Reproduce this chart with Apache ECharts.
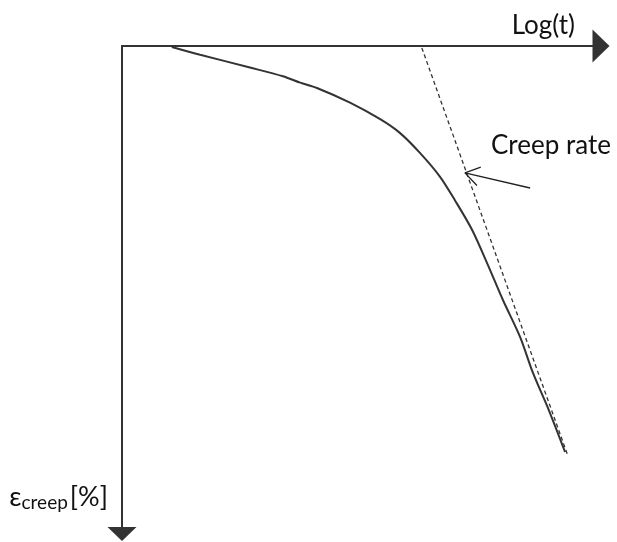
<!DOCTYPE html>
<html>
<head>
<meta charset="utf-8">
<script src="https://cdn.jsdelivr.net/npm/echarts@6/dist/echarts.min.js"></script>
<style>
  html, body { margin: 0; padding: 0; background: #fff; }
  #main { width: 617px; height: 542px; }
</style>
</head>
<body>
<div id="main"></div>
<script>
// creep curve, log(t) vs strain (arbitrary units)
var logT   = [10.4, 16.3, 26.7, 33.6, 37.2, 40.7, 47.6, 53.9, 58.0, 62.2, 66.4, 69.5, 73.1, 76.4, 79.5, 83.1, 85.8, 89.1, 92.5];
var strain = [0.2, 1.8, 4.4, 6.2, 7.5, 8.6, 11.6, 15.0, 17.8, 21.9, 26.8, 31.6, 37.7, 44.9, 52.0, 59.6, 67.0, 74.6, 83.2];
// tangent (creep rate) line
var tangentX = [62.6, 93.1];
var tangentY = [0.4, 84.0];
// pointer from the label to the tangent line
var pointerX = [85.2, 71.6];
var pointerY = [29.1, 26.0];
var headX = [74.9, 71.6, 74.1];
var headY = [24.8, 26.0, 28.6];

function pairs(xs, ys) {
  return xs.map(function (x, i) { return [x, ys[i]]; });
}

var FONT = 'Lato';
var myChart = echarts.init(document.getElementById('main'));
var option = {
  animation: false,
  backgroundColor: '#fff',
  grid: { left: 122, right: 16, top: 46, bottom: 8 },
  xAxis: {
    type: 'value',
    position: 'top',
    min: 0,
    max: 100,
    name: 'Log(t)',
    nameLocation: 'end',
    nameGap: -26,
    nameTextStyle: {
      fontFamily: FONT, fontSize: 26, color: '#111',
      align: 'right', verticalAlign: 'bottom', padding: [0, 0, 7, 0]
    },
    axisLine: {
      onZero: false,
      lineStyle: { color: '#333', width: 2 },
      symbol: ['none', 'triangle'],
      symbolSize: [33, 17]
    },
    axisTick: { show: false },
    axisLabel: { show: false },
    splitLine: { show: false }
  },
  yAxis: {
    type: 'value',
    inverse: true,
    min: 0,
    max: 100,
    name: '{e|ε}{s|creep}{p|[%]}',
    nameLocation: 'end',
    nameGap: -37,
    nameTextStyle: {
      align: 'right', verticalAlign: 'middle', padding: [0, 14, 0, 0],
      rich: {
        e: { fontFamily: FONT, fontSize: 27, color: '#111' },
        s: { fontFamily: FONT, fontSize: 19, color: '#111', verticalAlign: 'bottom', padding: [12, 2, 0, 0] },
        p: { fontFamily: FONT, fontSize: 27, color: '#111' }
      }
    },
    axisLine: {
      onZero: false,
      lineStyle: { color: '#333', width: 2 },
      symbol: ['triangle', 'none'],
      symbolSize: [29, 14]
    },
    axisTick: { show: false },
    axisLabel: { show: false },
    splitLine: { show: false }
  },
  graphic: [{
    type: 'text',
    left: 491,
    top: 133,
    style: { text: 'Creep rate', fontFamily: FONT, fontSize: 26, fill: '#111' }
  }],
  series: [
    {
      name: 'creep',
      type: 'line',
      smooth: 0.3,
      showSymbol: false,
      lineStyle: { color: '#333', width: 2 },
      data: pairs(logT, strain)
    },
    {
      name: 'tangent',
      type: 'line',
      showSymbol: false,
      lineStyle: { color: '#333', width: 1.3, type: [4, 3] },
      data: pairs(tangentX, tangentY)
    },
    {
      name: 'pointer',
      type: 'line',
      showSymbol: false,
      lineStyle: { color: '#222', width: 1.3 },
      data: pairs(pointerX, pointerY)
    },
    {
      name: 'head',
      type: 'line',
      showSymbol: false,
      lineStyle: { color: '#222', width: 1.3 },
      data: pairs(headX, headY)
    }
  ]
};
myChart.setOption(option);
</script>
</body>
</html>
